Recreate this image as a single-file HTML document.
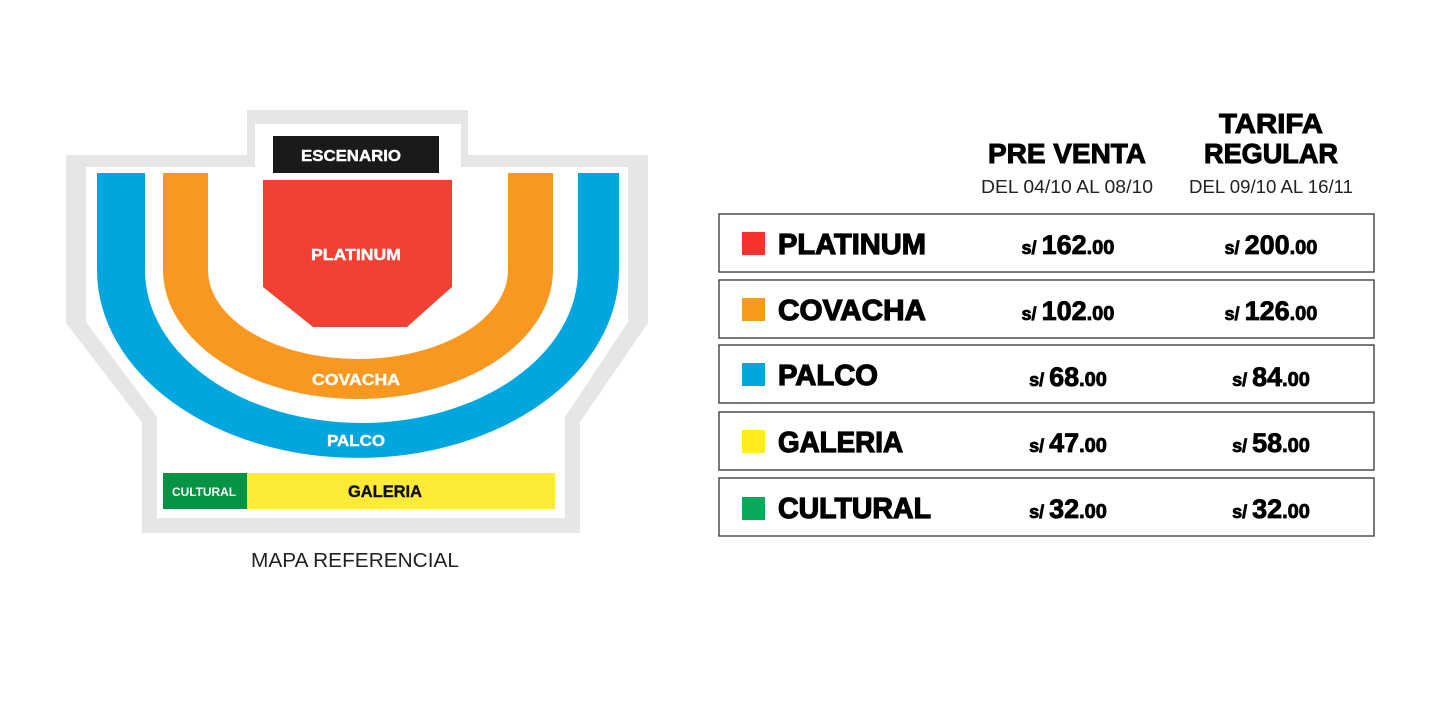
<!DOCTYPE html>
<html><head><meta charset="utf-8"><style>html,body{margin:0;padding:0;background:#fff}svg{display:block}</style></head>
<body>
<svg width="1440" height="702" viewBox="0 0 1440 702" xmlns="http://www.w3.org/2000/svg" font-family="Liberation Sans, sans-serif">
<rect width="1440" height="702" fill="#fff"/>
<polygon points="247,110 468,110 468,155 648,155 648,323 580,422 580,533 142,533 142,422 66,323 66,155 247,155" fill="#e6e6e6"/>
<polygon points="255,124 461,124 461,167 628,167 628,322 565,417 565,518 157,518 157,417 86,322 86,167 255,167" fill="#fff"/>
<rect x="273" y="136" width="166" height="37" fill="#1a1a1a"/>
<text x="351" y="161" font-size="16" font-weight="bold" fill="#fff" stroke="#fff" stroke-width="0.4" text-anchor="middle" textLength="100" lengthAdjust="spacingAndGlyphs">ESCENARIO</text>
<path d="M97,173 L145,173 L145,270 A216.5,153 0 0 0 578,270 L578,173 L619,173 L619,270 A261,188 0 0 1 97,270 Z" fill="#00a7de"/>
<path d="M163,173 L208,173 L208,270 A150,89 0 0 0 508,270 L508,173 L553,173 L553,270 A195,129 0 0 1 163,270 Z" fill="#f99821"/>
<polygon points="263,180 452,180 452,287 407,327 313,327 263,287" fill="#f24133"/>
<g font-size="16" font-weight="bold" fill="#fff" stroke="#fff" stroke-width="0.4" text-anchor="middle" lengthAdjust="spacingAndGlyphs">
<text x="356" y="260" textLength="90" lengthAdjust="spacingAndGlyphs">PLATINUM</text>
<text x="356" y="385" textLength="88" lengthAdjust="spacingAndGlyphs">COVACHA</text>
<text x="356" y="446" textLength="58" lengthAdjust="spacingAndGlyphs">PALCO</text>
</g>
<rect x="163" y="473" width="84" height="36" fill="#009444"/>
<rect x="247" y="473" width="308" height="36" fill="#fdeb37"/>
<text x="204" y="496" font-size="12" font-weight="bold" fill="#fff" text-anchor="middle" textLength="64" lengthAdjust="spacingAndGlyphs">CULTURAL</text>
<text x="385" y="497" font-size="17" font-weight="bold" fill="#111" stroke="#111" stroke-width="0.4" text-anchor="middle" textLength="74" lengthAdjust="spacingAndGlyphs">GALERIA</text>
<text x="355" y="567" font-size="20" fill="#222" text-anchor="middle" textLength="208" lengthAdjust="spacingAndGlyphs">MAPA REFERENCIAL</text>

<g font-weight="bold" fill="#000" stroke="#000" stroke-width="1" font-size="28" text-anchor="middle">
<text x="1067" y="163" textLength="158" lengthAdjust="spacingAndGlyphs">PRE VENTA</text>
<text x="1271" y="133" textLength="104" lengthAdjust="spacingAndGlyphs">TARIFA</text>
<text x="1271" y="163" textLength="134" lengthAdjust="spacingAndGlyphs">REGULAR</text>
</g>
<g font-size="18" fill="#222" text-anchor="middle">
<text x="1067" y="193" textLength="172" lengthAdjust="spacingAndGlyphs">DEL 04/10 AL 08/10</text>
<text x="1271" y="193" textLength="164" lengthAdjust="spacingAndGlyphs">DEL 09/10 AL 16/11</text>
</g>
<g fill="none" stroke="#333" stroke-width="1.3">
<rect x="719" y="214" width="655" height="58"/>
<rect x="719" y="280" width="655" height="58"/>
<rect x="719" y="345" width="655" height="58"/>
<rect x="719" y="412" width="655" height="58"/>
<rect x="719" y="478" width="655" height="58"/>
</g>
<rect x="742" y="232" width="23" height="23" fill="#f5332a"/>
<rect x="742" y="298" width="23" height="23" fill="#f99a1e"/>
<rect x="742" y="363" width="23" height="23" fill="#00a7de"/>
<rect x="742" y="430" width="23" height="23" fill="#fded1c"/>
<rect x="742" y="497" width="23" height="23" fill="#0aaa5c"/>
<g font-weight="bold" fill="#000" stroke="#000" stroke-width="1.2" font-size="29">
<text x="778" y="254" textLength="148" lengthAdjust="spacingAndGlyphs">PLATINUM</text>
<text x="778" y="320" textLength="148" lengthAdjust="spacingAndGlyphs">COVACHA</text>
<text x="778" y="385" textLength="100" lengthAdjust="spacingAndGlyphs">PALCO</text>
<text x="778" y="452" textLength="125" lengthAdjust="spacingAndGlyphs">GALERIA</text>
<text x="778" y="518" textLength="153" lengthAdjust="spacingAndGlyphs">CULTURAL</text>
</g>
<g font-weight="bold" fill="#000" stroke="#000" stroke-width="0.8" text-anchor="middle">
<text x="1068" y="254" font-size="27"><tspan font-size="18">s/ </tspan>162<tspan font-size="20">.00</tspan></text>
<text x="1271" y="254" font-size="27"><tspan font-size="18">s/ </tspan>200<tspan font-size="20">.00</tspan></text>
<text x="1068" y="320" font-size="27"><tspan font-size="18">s/ </tspan>102<tspan font-size="20">.00</tspan></text>
<text x="1271" y="320" font-size="27"><tspan font-size="18">s/ </tspan>126<tspan font-size="20">.00</tspan></text>
<text x="1068" y="386" font-size="27"><tspan font-size="18">s/ </tspan>68<tspan font-size="20">.00</tspan></text>
<text x="1271" y="386" font-size="27"><tspan font-size="18">s/ </tspan>84<tspan font-size="20">.00</tspan></text>
<text x="1068" y="452" font-size="27"><tspan font-size="18">s/ </tspan>47<tspan font-size="20">.00</tspan></text>
<text x="1271" y="452" font-size="27"><tspan font-size="18">s/ </tspan>58<tspan font-size="20">.00</tspan></text>
<text x="1068" y="518" font-size="27"><tspan font-size="18">s/ </tspan>32<tspan font-size="20">.00</tspan></text>
<text x="1271" y="518" font-size="27"><tspan font-size="18">s/ </tspan>32<tspan font-size="20">.00</tspan></text>
</g>
</svg>
</body></html>
